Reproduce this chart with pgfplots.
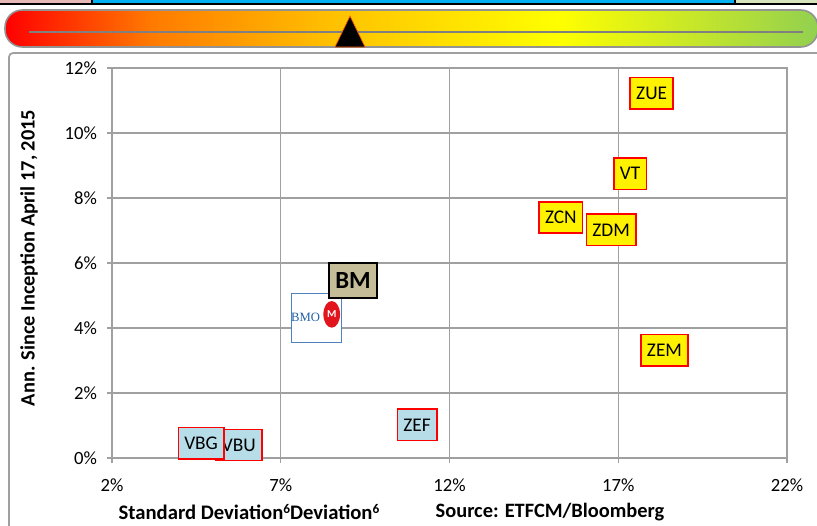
\documentclass[border=0pt]{standalone}
\usepackage{pgfplots}
\pgfplotsset{compat=1.18}
\usepackage{fontspec}
\setmainfont{Carlito}
\newfontfamily\seriffont{Liberation Serif}
\usetikzlibrary{shapes.geometric}
\definecolor{gridgray}{HTML}{A0A0A0}
\definecolor{boxblue}{HTML}{B7DDE8}
\definecolor{tanbox}{HTML}{C4BD97}
\definecolor{bmoblue}{HTML}{4F81BD}
\definecolor{bmotext}{HTML}{2060A8}
\definecolor{bmored}{HTML}{E2141C}
\definecolor{stripblue}{HTML}{00B0F0}
\definecolor{strippink}{HTML}{E6B9B8}
\definecolor{stripgreen}{HTML}{D7E4BC}
\definecolor{mA}{HTML}{FF0000}
\definecolor{mB}{HTML}{FF7A00}
\definecolor{mC}{HTML}{FFC000}
\definecolor{mD}{HTML}{FFFF00}
\definecolor{mE}{HTML}{92D050}
\pgfdeclarehorizontalshading{meter}{100bp}{color(0bp)=(mA); color(25bp)=(mA); color(34bp)=(mB); color(45bp)=(mC); color(59bp)=(mD); color(75bp)=(mE); color(100bp)=(mE)}

\pgfplotstableread{
x y label
15.30 7.40 ZCN
16.79 7.02 ZDM
17.35 8.75 VT
17.99 11.22 ZUE
18.37 3.32 ZEM
}\yellowtab
\pgfplotstableread{
x y label
5.76 0.40 VBU
4.64 0.45 VBG
11.04 1.02 ZEF
}\bluetab
\pgfplotstableread{
x y label
8.07 4.32 BMO
}\bmotab
\pgfplotstableread{
x y label
8.51 4.42 M
}\bmologo
\pgfplotstableread{
x y label
9.14 5.46 BM
}\bmtab

\begin{document}
\begin{tikzpicture}
\useasboundingbox (0,0) rectangle (612.75pt,-393.75pt);
\begin{scope}[x=0.75pt,y=-0.75pt]
  % top strip
  \filldraw[fill=strippink, draw=black, line width=1.5pt] (-10,-10) rectangle (92,4);
  \filldraw[fill=stripblue, draw=black, line width=1.5pt] (92,-10) rectangle (735,4);
  \filldraw[fill=stripgreen, draw=black, line width=1.5pt] (735,-10) rectangle (840,4);
  % meter
  \shadedraw[shading=meter, draw=gray!85, line width=1.2pt, rounded corners=13pt] (5,10) rectangle (818,47);
  \draw[gray, line width=1.1pt] (29,32) -- (803,32);
  \filldraw[fill=black, draw=orange!70!red, line width=0.5pt] (350,16) -- (365,47) -- (335,47) -- cycle;
  % frame
  \draw[gray!75, line width=1.3pt, rounded corners=3pt] (9,540) -- (9,53) -- (840,53);
  % axis labels
  \node[font=\fontsize{15.3}{18}\selectfont\bfseries, rotate=90] at (29,258) {Ann. Since Inception April 17, 2015};
  \node[font=\fontsize{15.5}{18}\selectfont\bfseries] at (249,512) {Standard Deviation{\fontsize{10}{12}\selectfont\raisebox{0.45em}{6}}Deviation{\fontsize{10}{12}\selectfont\raisebox{0.45em}{6}}};
  \node[font=\fontsize{15.3}{18}\selectfont\bfseries] at (550,512) {Source: ETFCM/Bloomberg};
\end{scope}
\begin{axis}[
  at={(84pt,-343.5pt)}, anchor=south west,
  scale only axis, width=506.25pt, height=292.5pt,
  xmin=2, xmax=22, ymin=0, ymax=12,
  xtick={2,7,12,17,22}, ytick={0,2,4,6,8,10,12},
  xticklabel={\pgfmathprintnumber{\tick}\%},
  yticklabel={\pgfmathprintnumber{\tick}\%},
  /pgf/number format/assume math mode=true,
  tick label style={font=\fontsize{14}{16}\selectfont, text=black},
  xticklabel style={yshift=-8pt},
  yticklabel style={xshift=-4pt},
  grid=major,
  major grid style={gridgray, line width=1.1pt},
  axis line style={gridgray, line width=1.1pt},
  tick align=outside, major tick length=3.75pt,
  tick style={gridgray, line width=1.1pt},
  xtick pos=left, ytick pos=left,
  clip=false,
]
\addplot[only marks, mark=none, point meta=explicit symbolic, nodes near coords,
  every node near coord/.style={anchor=center, draw=bmoblue, fill=white, line width=0.8pt,
    minimum width=37.5pt, minimum height=36.75pt, inner sep=0pt,
    font=\seriffont\fontsize{9.5}{12}\selectfont, text=bmotext},
  nodes near coords={\hspace*{-17pt}\pgfplotspointmeta}]
  table[x=x, y=y, meta=label]{\bmotab};
\addplot[only marks, mark=none, point meta=explicit symbolic, nodes near coords,
  every node near coord/.style={anchor=center, ellipse, fill=bmored, draw=none,
    minimum width=12.5pt, minimum height=20pt, inner sep=0pt,
    font=\fontsize{8}{9}\selectfont\bfseries, text=white}]
  table[x=x, y=y, meta=label]{\bmologo};
\addplot[only marks, mark=none, point meta=explicit symbolic, nodes near coords,
  every node near coord/.style={anchor=center, draw=black, fill=tanbox, line width=1.1pt,
    minimum width=36pt, minimum height=26pt, inner xsep=2pt,
    font=\fontsize{18.5}{20}\selectfont\bfseries, text=black}]
  table[x=x, y=y, meta=label]{\bmtab};
\addplot[only marks, mark=none, point meta=explicit symbolic, nodes near coords,
  every node near coord/.style={anchor=center, draw=red, fill=yellow, line width=1.1pt,
    minimum height=23.5pt, inner xsep=4.5pt,
    font=\fontsize{14.5}{16}\selectfont, text=black}]
  table[x=x, y=y, meta=label]{\yellowtab};
\addplot[only marks, mark=none, point meta=explicit symbolic, nodes near coords,
  every node near coord/.style={anchor=center, draw=red, fill=boxblue, line width=1.1pt,
    minimum height=23.5pt, inner xsep=4.5pt,
    font=\fontsize{14.5}{16}\selectfont, text=black}]
  table[x=x, y=y, meta=label]{\bluetab};
\end{axis}
\end{tikzpicture}
\end{document}
